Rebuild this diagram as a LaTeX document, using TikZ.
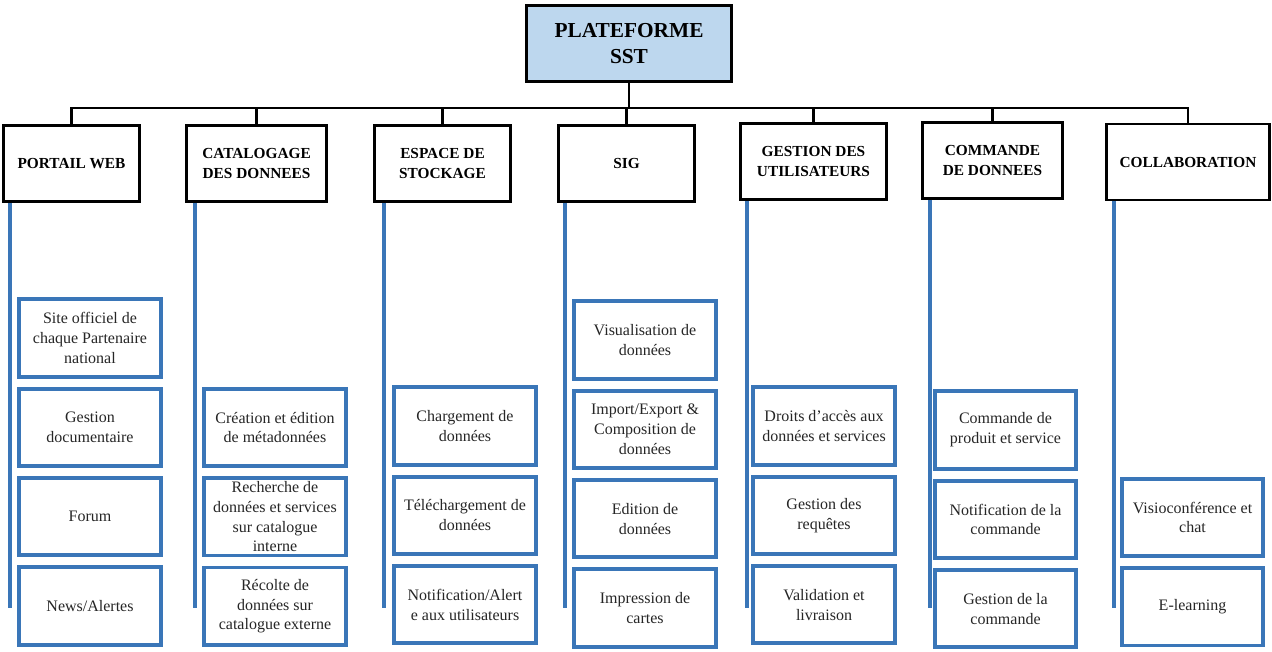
\documentclass[tikz,border=0pt]{standalone}
\usepackage{fontspec}
\setmainfont{Liberation Serif}
\usetikzlibrary{positioning}
\definecolor{sstblue}{RGB}{189,215,238}
\definecolor{leafblue}{RGB}{58,118,184}

\begin{document}
\begin{tikzpicture}[x=0.75pt,y=-0.75pt]
    \tikzset{
        root/.style = {rectangle, draw=black, fill=sstblue, line width=2.2pt, minimum width=154pt, minimum height=57pt, align=center, font=\fontsize{16}{19.5}\selectfont\bfseries},
        cat/.style = {rectangle, draw=black, fill=white, line width=2.2pt, minimum height=57pt, align=center, inner sep=2pt, font=\fontsize{11.5}{14.5}\selectfont\bfseries},
        leaf/.style = {rectangle, draw=leafblue, fill=white, line width=2.8pt, outer sep=0pt, minimum width=106pt, minimum height=58pt, align=center, inner xsep=2pt, inner ysep=0pt, text=black!85, font=\fontsize{12}{14.8}\selectfont},
        trunk/.style = {draw=black, line width=2.2pt},
        spine/.style = {draw=leafblue, line width=2.6pt}
    }
    \useasboundingbox (0,0) rectangle (1272,651);

    \node[root](sst) at (629,43.5){PLATEFORME\\SST};

    \node[cat, minimum width=102pt](web) at (71.5,163.5){PORTAIL WEB};
    \node[cat, minimum width=105pt](catalog) at (256.5,163.5){CATALOGAGE\\DES DONNEES};
    \node[cat, minimum width=102pt](stock) at (442.5,163.5){ESPACE DE\\STOCKAGE};
    \node[cat, minimum width=102pt](sig) at (626.5,163.5){SIG};
    \node[cat, minimum width=109.5pt](users) at (813.5,161.5){GESTION DES\\UTILISATEURS};
    \node[cat, minimum width=105pt](order) at (992.5,160.5){COMMANDE\\DE DONNEES};
    \node[cat, minimum width=122pt](collab) at (1188,162){COLLABORATION};

    \coordinate (bus) at (629,108);
    \foreach \n in {web,catalog,stock,sig,users,order,collab}
        \path [trunk] (sst.south) -- (sst.south |- bus) -| (\n.north);

    \foreach \n/\x in {web/10,catalog/195,stock/384,sig/565,users/747,order/930,collab/1114}{
        \coordinate (\n-end) at (\x,608);
        \path [spine] (\n.south -| \n-end) -- (\n-end);
    }

    % portail web
    \node[leaf](site) at (90,338){Site officiel de\\chaque Partenaire\\national};
    \node[leaf](docs)[below=9pt of site]{Gestion\\documentaire};
    \node[leaf](forum)[below=9pt of docs]{Forum};
    \node[leaf](news)[below=9pt of forum]{News/Alertes};

    % catalogage
    \node[leaf](meta) at (275,427.5){Création et édition\\de métadonnées};
    \node[leaf](search)[below=9pt of meta]{Recherche de\\données et services\\sur catalogue\\interne};
    \node[leaf](harvest)[below=9pt of search]{Récolte de\\données sur\\catalogue externe};

    % stockage
    \node[leaf](upload) at (465,426){Chargement de\\données};
    \node[leaf](download)[below=9pt of upload]{Téléchargement de\\données};
    \node[leaf](alert)[below=9pt of download]{Notification/Alert\\e aux utilisateurs};

    % sig
    \node[leaf](view) at (645,340){Visualisation de\\données};
    \node[leaf](import)[below=9pt of view]{Import/Export \&\\Composition de\\données};
    \node[leaf](edit)[below=9pt of import]{Edition de\\données};
    \node[leaf](print)[below=9pt of edit]{Impression de\\cartes};

    % utilisateurs
    \node[leaf](rights) at (824,426){Droits d’accès aux\\données et services};
    \node[leaf](requests)[below=9pt of rights]{Gestion des\\requêtes};
    \node[leaf](delivery)[below=9pt of requests]{Validation et\\livraison};

    % commande
    \node[leaf](product) at (1005.5,430){Commande de\\produit et service};
    \node[leaf](notify)[below=9pt of product]{Notification de la\\commande};
    \node[leaf](manage)[below=9pt of notify]{Gestion de la\\commande};

    % collaboration
    \node[leaf](visio) at (1192.5,517.5){Visioconférence et\\chat};
    \node[leaf](elearn)[below=9pt of visio]{E-learning};

\end{tikzpicture}
\end{document}
